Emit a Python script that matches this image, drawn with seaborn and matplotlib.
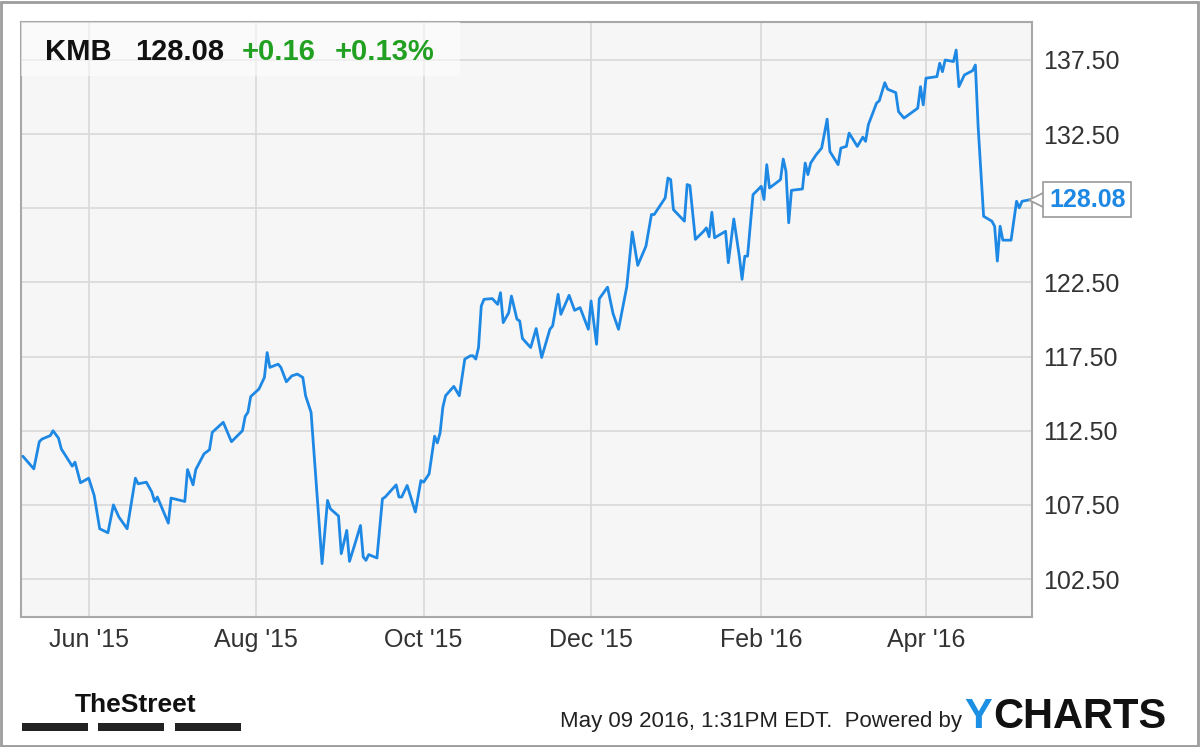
import pandas as pd
import matplotlib
matplotlib.use("Agg")
import matplotlib.pyplot as plt
import matplotlib.transforms as mtransforms
from matplotlib.patches import Rectangle
import seaborn as sns


# Data (KMB daily close, May '15 - May '16)

dates = [
    "2015-05-08", "2015-05-12", "2015-05-14", "2015-05-15", "2015-05-18", "2015-05-19",
    "2015-05-21", "2015-05-22", "2015-05-26", "2015-05-27", "2015-05-29",
    "2015-06-01", "2015-06-03", "2015-06-05", "2015-06-08", "2015-06-10", "2015-06-12",
    "2015-06-15", "2015-06-18", "2015-06-19", "2015-06-22", "2015-06-24", "2015-06-25",
    "2015-06-26", "2015-06-30",
    "2015-07-01", "2015-07-06", "2015-07-07", "2015-07-09", "2015-07-10", "2015-07-13",
    "2015-07-15", "2015-07-16", "2015-07-20", "2015-07-23", "2015-07-27", "2015-07-28",
    "2015-07-29", "2015-07-30",
    "2015-08-02", "2015-08-04", "2015-08-05", "2015-08-06", "2015-08-09", "2015-08-10",
    "2015-08-12", "2015-08-14", "2015-08-16", "2015-08-18", "2015-08-19", "2015-08-21",
    "2015-08-25", "2015-08-27", "2015-08-28", "2015-08-31",
    "2015-09-01", "2015-09-03", "2015-09-04", "2015-09-06", "2015-09-08", "2015-09-09",
    "2015-09-10", "2015-09-11", "2015-09-14", "2015-09-16", "2015-09-17", "2015-09-21",
    "2015-09-22", "2015-09-23", "2015-09-25", "2015-09-28", "2015-09-30",
    "2015-10-01", "2015-10-03", "2015-10-05", "2015-10-06", "2015-10-07", "2015-10-08",
    "2015-10-09", "2015-10-12", "2015-10-14", "2015-10-16", "2015-10-18", "2015-10-19",
    "2015-10-20", "2015-10-21", "2015-10-22", "2015-10-23", "2015-10-26", "2015-10-28",
    "2015-10-29", "2015-10-30",
    "2015-11-01", "2015-11-02", "2015-11-03", "2015-11-04", "2015-11-05", "2015-11-06",
    "2015-11-09", "2015-11-11", "2015-11-13", "2015-11-16", "2015-11-17", "2015-11-19",
    "2015-11-20", "2015-11-23", "2015-11-25", "2015-11-27", "2015-11-30",
    "2015-12-01", "2015-12-03", "2015-12-04", "2015-12-07", "2015-12-09", "2015-12-11",
    "2015-12-14", "2015-12-16", "2015-12-18", "2015-12-21", "2015-12-23", "2015-12-24",
    "2015-12-28", "2015-12-29", "2015-12-30", "2015-12-31",
    "2016-01-04", "2016-01-05", "2016-01-06", "2016-01-08", "2016-01-11", "2016-01-12",
    "2016-01-13", "2016-01-14", "2016-01-15", "2016-01-19", "2016-01-20", "2016-01-22",
    "2016-01-24", "2016-01-25", "2016-01-26", "2016-01-27", "2016-01-29",
    "2016-02-01", "2016-02-02", "2016-02-03", "2016-02-04", "2016-02-08", "2016-02-09",
    "2016-02-10", "2016-02-11", "2016-02-12", "2016-02-16", "2016-02-17", "2016-02-18",
    "2016-02-19", "2016-02-21", "2016-02-23", "2016-02-25", "2016-02-26", "2016-02-29",
    "2016-03-01", "2016-03-03", "2016-03-04", "2016-03-07", "2016-03-09", "2016-03-10",
    "2016-03-11", "2016-03-14", "2016-03-15", "2016-03-17", "2016-03-18", "2016-03-21",
    "2016-03-22", "2016-03-23", "2016-03-24", "2016-03-29", "2016-03-30", "2016-03-31",
    "2016-04-01", "2016-04-05", "2016-04-06", "2016-04-07", "2016-04-08", "2016-04-11",
    "2016-04-12", "2016-04-13", "2016-04-15", "2016-04-18", "2016-04-19", "2016-04-20",
    "2016-04-22", "2016-04-25", "2016-04-26", "2016-04-27", "2016-04-28", "2016-04-29",
    "2016-05-02", "2016-05-04", "2016-05-05", "2016-05-06", "2016-05-09",
]

prices = [
    110.78, 109.93, 111.76, 111.94, 112.17, 112.50, 112.00, 111.28, 110.11, 110.38, 108.99,
    109.30, 108.13, 105.89, 105.62, 107.50, 106.68, 105.89, 109.30, 108.92, 109.03, 108.36,
    107.73, 108.03, 106.27,
    107.96, 107.73, 109.88, 108.85, 109.88, 110.94, 111.22, 112.39, 113.07, 111.76, 112.50,
    113.47, 113.74, 114.80,
    115.31, 116.09, 117.77, 116.77, 116.99, 116.77, 115.80, 116.20, 116.32, 116.09, 114.86,
    113.74, 103.54, 107.80, 107.24, 106.75,
    104.21, 105.78, 103.69, 104.88, 106.11, 103.99, 103.76, 104.15, 103.92, 107.91, 108.03,
    108.85, 108.03, 108.03, 108.81, 107.02, 109.14,
    109.03, 109.59, 112.13, 111.68, 112.35, 114.08, 114.86, 115.49, 114.86, 117.33, 117.55,
    117.55, 117.33, 118.11, 120.91, 121.36, 121.41, 121.02, 121.81, 119.79,
    120.46, 121.58, 120.80, 120.02, 119.90, 118.72, 118.11, 119.39, 117.44, 119.34, 119.57,
    121.70, 120.35, 121.63, 120.62, 120.80, 119.34,
    121.25, 118.33, 121.40, 122.18, 120.40, 119.34, 122.20, 125.90, 123.65, 124.95, 127.08,
    127.08, 128.20, 129.54, 129.43, 127.41,
    126.63, 129.10, 129.03, 125.40, 125.95, 126.18, 125.58, 127.23, 125.51, 125.95, 123.83,
    126.78, 124.27, 122.71, 124.27, 124.27, 128.42,
    128.98, 128.09, 130.44, 128.87, 129.43, 130.82, 129.99, 126.52, 128.71, 128.80, 130.55,
    129.77, 130.55, 131.11, 131.56, 133.51, 131.33, 130.44,
    131.56, 131.67, 132.57, 131.67, 132.30, 132.01, 133.13, 134.59, 134.75, 135.97, 135.53,
    135.30, 134.02, 133.80, 133.58, 134.25, 135.70, 134.47,
    136.27, 136.38, 137.28, 136.71, 137.50, 137.39, 138.17, 135.70, 136.49, 136.78, 137.16,
    133.01, 126.96, 126.63, 126.29, 123.94, 126.29, 125.35,
    125.35, 127.97, 127.53, 127.97, 128.08,
]

tick_dates = ["2015-06-01", "2015-08-01", "2015-10-01", "2015-12-01", "2016-02-01", "2016-04-01"]
tick_labels = ["Jun '15", "Aug '15", "Oct '15", "Dec '15", "Feb '16", "Apr '16"]
price_ticks = [102.5, 107.5, 112.5, 117.5, 122.5, 127.5, 132.5, 137.5]

ticker = "KMB"
change = "+0.16"
change_pct = "+0.13%"
stamp = "May 09 2016, 1:31PM EDT.  Powered by"

df = pd.DataFrame({"date": pd.to_datetime(dates), "price": prices})

# Style

sns.set_style("white")
plt.rcParams["font.family"] = ["Liberation Sans", "DejaVu Sans"]

W, H = 1200, 747
fig = plt.figure(figsize=(W / 100, H / 100), dpi=100)
ax = fig.add_axes([21 / W, 1 - 617 / H, (1032 - 21) / W, (617 - 22) / H])
ax.set_facecolor("#f6f6f6")

sns.lineplot(data=df, x="date", y="price", ax=ax, color="#1e88e5",
             lw=2.0, estimator=None, zorder=4)

last = prices[-1]

ax.set_xlim(pd.Timestamp("2015-05-07 08:00"), pd.Timestamp("2016-05-09 15:00"))
ax.set_ylim(99.94, 140.06)
ax.set_xticks(pd.to_datetime(tick_dates))
ax.set_xticklabels(tick_labels)
ax.set_yticks(price_ticks)
# the tick under the last-price flag is hidden, as in the source chart
ax.set_yticklabels(["" if abs(v - last) < 2 else f"{v:.2f}" for v in price_ticks])
ax.yaxis.tick_right()
ax.tick_params(length=0, labelsize=18, colors="#333333", pad=8)
ax.grid(True, color="#d9d9d9", lw=1.2)
ax.set_xlabel("")
ax.set_ylabel("")
for s in ax.spines.values():
    s.set_color("#a8a8a8")
    s.set_linewidth(1.5)

# Header strip with quote
ax.add_patch(Rectangle((0, 0.909), 0.434, 0.095, transform=ax.transAxes,
                       fc="white", alpha=0.55, ec="none", zorder=3))
base_y = 1 - 60 / H
fig.text(45 / W, base_y, ticker, weight="bold", size=21, color="#111111")
fig.text(135 / W, base_y, f"{last:.2f}", weight="bold", size=21, color="#111111")
fig.text(242 / W, base_y, change, weight="bold", size=21, color="#22a022")
fig.text(335 / W, base_y, change_pct, weight="bold", size=21, color="#22a022")

# Last value flag on the right axis
trans = mtransforms.blended_transform_factory(ax.transAxes, ax.transData)
ax.plot([1.0054], [last], marker="<", ms=11, mfc="white", mec="#999999", mew=1.2,
        transform=trans, clip_on=False, zorder=9)
ax.text(1.0168, last, f"{last:.2f}", transform=trans, ha="left", va="center",
        color="#1e88e5", weight="bold", size=18, zorder=10, clip_on=False,
        bbox=dict(boxstyle="square,pad=0.22", fc="white", ec="#999999", lw=1.2))

# Footer
fig.text(75 / W, 1 - 712 / H, "TheStreet", weight="bold", size=19, color="#111111")
for x0 in [22, 98, 175]:
    fig.add_artist(Rectangle((x0 / W, 1 - 731 / H), 66 / W, 8 / H,
                             transform=fig.transFigure, fc="#222222", ec="none"))
fig.text(560 / W, 1 - 727 / H, stamp, size=16, color="#222222")
fig.text(964 / W, 1 - 728 / H, "Y", weight="bold", size=30, color="#1a8fe3")
fig.text(993 / W, 1 - 728 / H, "CHARTS", weight="bold", size=30, color="#111111")

fig.add_artist(Rectangle((0.001, 0.0015), 0.997, 0.996, transform=fig.transFigure,
                         fill=False, ec="#9c9c9c", lw=2))

fig.savefig("out.png", dpi=100)
